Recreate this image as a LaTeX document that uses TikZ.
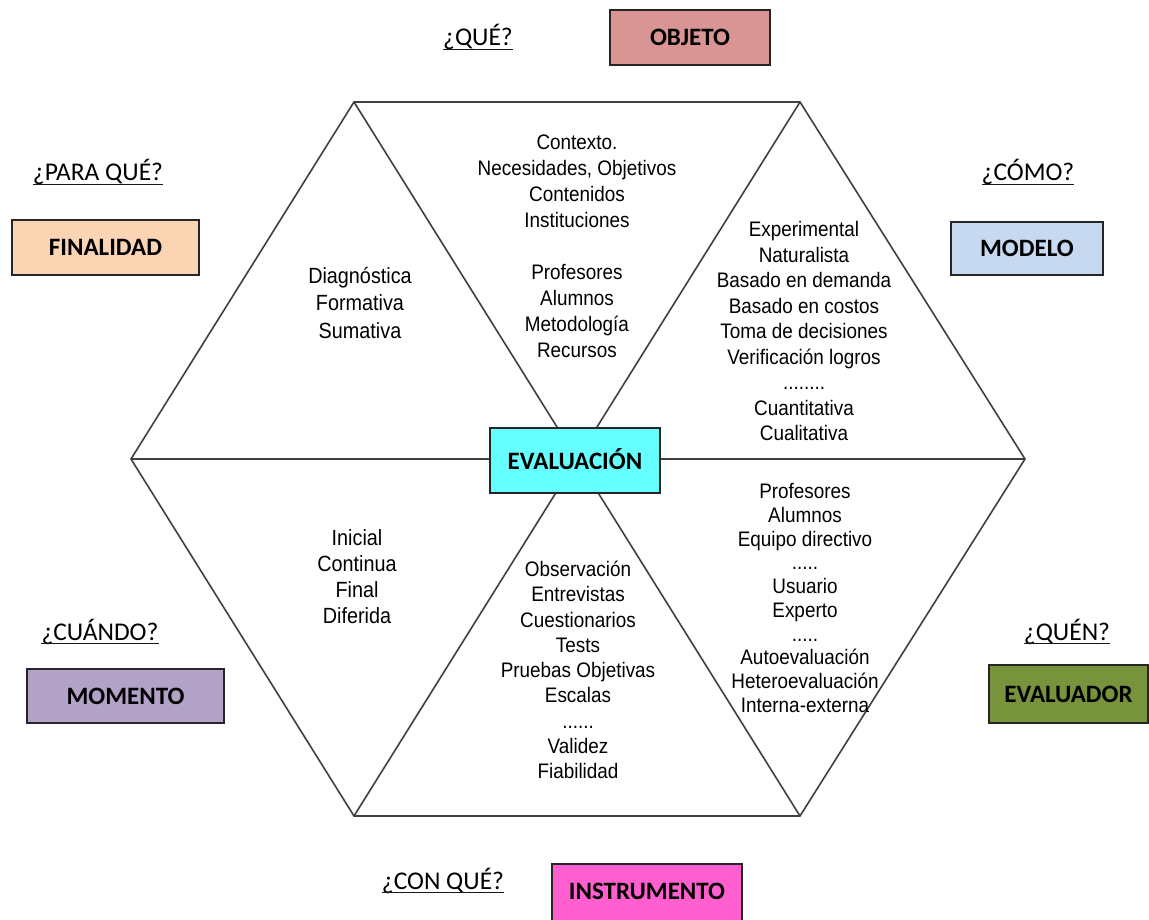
\documentclass[tikz,border=0pt]{standalone}
\usepackage{fontspec}
\setmainfont{Liberation Sans}
\newfontfamily\cellfont[FakeStretch=0.9]{Liberation Sans}
\newfontfamily\labfont{Carlito}
\definecolor{cObjeto}{HTML}{D99594}
\definecolor{cFinal}{HTML}{FBD4B4}
\definecolor{cModelo}{HTML}{C6D9F1}
\definecolor{cMomento}{HTML}{B2A2C7}
\definecolor{cEvaluador}{HTML}{77933C}
\definecolor{cInstr}{HTML}{FF5FCF}
\definecolor{cEval}{HTML}{66FFFF}
\definecolor{lineGray}{HTML}{404040}
\begin{document}
\begin{tikzpicture}[x=1pt,y=-1pt,
  hexline/.style={draw=lineGray, line width=1.6pt},
  catbox/.style={draw=black!85, line width=1.8pt, inner sep=0pt},
  boxlabel/.style={font=\labfont\bfseries\fontsize{25}{28}\selectfont, inner sep=0pt},
  question/.style={font=\labfont\fontsize{25.5}{28}\selectfont, inner sep=0pt, anchor=base},
  uline/.style={line width=1.4pt, draw=black!90},
  cell/.style={align=center, inner sep=0pt}
]
\clip (0,0) rectangle (1149,920);
\useasboundingbox (0,0) rectangle (1149,920);
\fill[white] (0,0) rectangle (1149,920);

% hexagon
\coordinate (TL) at (354,102);
\coordinate (TR) at (800,102);
\coordinate (R) at (1025,459);
\coordinate (BR) at (800,816);
\coordinate (BL) at (354,816);
\coordinate (L) at (131,459);
\draw[hexline, line join=miter] (TL) -- (TR) -- (R) -- (BR) -- (BL) -- (L) -- cycle;
\draw[hexline] (L) -- (R);
\draw[hexline] (TL) -- (BR);
\draw[hexline] (TR) -- (BL);

% centre box
\node[catbox, fill=cEval, minimum width=170pt, minimum height=65pt] (eval) at (575,460.5) {};
\node[boxlabel] (evallab) at (575,459) {EVALUACIÓN};

% triangle texts
\node[cell, font=\cellfont\fontsize{21}{26}\selectfont] (tTop) at (577,246) {Contexto.\\Necesidades, Objetivos\\Contenidos\\Instituciones\\[26pt]Profesores\\Alumnos\\Metodología\\Recursos};
\node[cell, font=\cellfont\fontsize{22}{27.5}\selectfont] (tUL) at (360,303) {Diagnóstica\\Formativa\\Sumativa};
\node[cell, font=\cellfont\fontsize{21}{25.5}\selectfont] (tUR) at (804,331) {Experimental\\Naturalista\\Basado en demanda\\Basado en costos\\Toma de decisiones\\Verificación logros\\........\\Cuantitativa\\Cualitativa};
\node[cell, font=\cellfont\fontsize{22}{26}\selectfont] (tLL) at (357,577) {Inicial\\Continua\\Final\\Diferida};
\node[cell, font=\cellfont\fontsize{21}{25.25}\selectfont] (tBot) at (578,670) {Observación\\Entrevistas\\Cuestionarios\\Tests\\Pruebas Objetivas\\Escalas\\......\\Validez\\Fiabilidad};
\node[cell, font=\cellfont\fontsize{21}{23.7}\selectfont] (tLR) at (805,598) {Profesores\\Alumnos\\Equipo directivo\\.....\\Usuario\\Experto\\.....\\Autoevaluación\\Heteroevaluación\\Interna-externa};

% category boxes
\node[catbox, fill=cObjeto, minimum width=160pt, minimum height=55pt] (objeto) at (690,37.5) {};
\node[boxlabel] at (objeto.center) {OBJETO};
\node[catbox, fill=cFinal, minimum width=187pt, minimum height=55pt] (final) at (105.5,247.5) {};
\node[boxlabel] at (final.center) {FINALIDAD};
\node[catbox, fill=cModelo, minimum width=152pt, minimum height=53pt] (modelo) at (1027,248.5) {};
\node[boxlabel] at (modelo.center) {MODELO};
\node[catbox, fill=cMomento, minimum width=197pt, minimum height=54pt] (momento) at (125.5,696) {};
\node[boxlabel] at (momento.center) {MOMENTO};
\node[catbox, fill=cEvaluador, minimum width=159pt, minimum height=58pt] (evaluador) at (1068.5,694) {};
\node[boxlabel] at (evaluador.center) {EVALUADOR};
\node[catbox, fill=cInstr, minimum width=190pt, minimum height=70pt, anchor=north] (instr) at (647,863) {};
\node[boxlabel] at (647,891) {INSTRUMENTO};

% questions
\node[question] (qQue) at (478,46) {¿QUÉ?};
\draw[uline] ([yshift=-3.5pt]qQue.base west) -- ([yshift=-3.5pt]qQue.base east);
\node[question] (qPara) at (98,181) {¿PARA QUÉ?};
\draw[uline] ([yshift=-3.5pt]qPara.base west) -- ([yshift=-3.5pt]qPara.base east);
\node[question] (qComo) at (1028,181) {¿CÓMO?};
\draw[uline] ([yshift=-3.5pt]qComo.base west) -- ([yshift=-3.5pt]qComo.base east);
\node[question] (qCuando) at (100,640) {¿CUÁNDO?};
\draw[uline] ([yshift=-3.5pt]qCuando.base west) -- ([yshift=-3.5pt]qCuando.base east);
\node[question] (qQuien) at (1067,640) {¿QUÉN?};
\draw[uline] ([yshift=-3.5pt]qQuien.base west) -- ([yshift=-3.5pt]qQuien.base east);
\node[question] (qCon) at (443,889) {¿CON QUÉ?};
\draw[uline] ([yshift=-3.5pt]qCon.base west) -- ([yshift=-3.5pt]qCon.base east);
\end{tikzpicture}
\end{document}
